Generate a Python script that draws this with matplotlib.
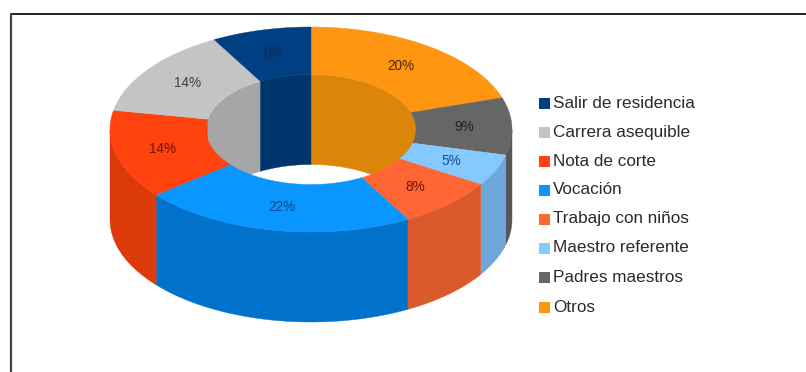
import matplotlib
matplotlib.use('Agg')
import matplotlib.pyplot as plt
from matplotlib.patches import Polygon, Rectangle
import numpy as np

plt.rcParams['font.family'] = ['Liberation Sans', 'DejaVu Sans']

# Clockwise from twelve o'clock
labels = ['Otros', 'Padres maestros', 'Maestro referente', 'Trabajo con niños',
          'Vocación', 'Nota de corte', 'Carrera asequible', 'Salir de residencia']
values = [20, 9, 5, 8, 22, 14, 14, 8]
top_colors = ['#FF9612', '#666666', '#84CAFF', '#FF6633',
              '#0A96FF', '#FF420E', '#C4C4C4', '#004082']
side_colors = ['#DB8609', '#575757', '#6FA6DC', '#DB5A2B',
               '#0072CC', '#DC3A08', '#A6A6A6', '#00356C']
text_colors = ['#4A2A00', '#222222', '#1F4A9A', '#701400',
               '#0A4A8A', '#701400', '#404040', '#0A2A55']
legend_order = labels[::-1]

# Ring geometry in pixels
CX, CY = 311, 129.5
RX_OUT, RY_OUT = 201, 102.5
RX_IN, RY_IN = 105, 55
DEPTH = 90


def arc(rx, ry, a0, a1, dy=0):
    t = np.radians(np.linspace(a0, a1, max(int(abs(a1 - a0)) * 2, 2)))
    return np.column_stack([CX + rx * np.sin(t), CY + dy - ry * np.cos(t)])


fig = plt.figure(figsize=(8.06, 3.72), dpi=100)
ax = fig.add_axes([0, 0, 1, 1])
ax.set_xlim(0, 806)
ax.set_ylim(372, 0)
ax.axis('off')

edges = np.cumsum([0] + values) * 3.6
slices = list(zip(edges[:-1], edges[1:], top_colors, side_colors))

# Inner wall, only the far half is visible; the first slice fills the right side up to 90 deg
for i, (a0, a1, top, side) in enumerate(slices):
    hi_right = 90 if i == 0 else min(a1, 90)
    for lo, hi in [(max(a0, 0), hi_right), (max(a0, 270), min(a1, 360))]:
        if hi > lo and not (i == 1 and lo < 90):
            pts = np.vstack([arc(RX_IN, RY_IN, lo, hi),
                             arc(RX_IN, RY_IN, hi, lo, DEPTH)])
            ax.add_patch(Polygon(pts, fc=side, ec=side, lw=0.3, zorder=1))

# Outer wall, only the near half is visible
for a0, a1, top, side in slices:
    lo, hi = max(a0, 90), min(a1, 270)
    if hi > lo:
        pts = np.vstack([arc(RX_OUT, RY_OUT, lo, hi),
                         arc(RX_OUT, RY_OUT, hi, lo, DEPTH)])
        ax.add_patch(Polygon(pts, fc=side, ec=side, lw=0.3, zorder=2))

# Top face
for a0, a1, top, side in slices:
    pts = np.vstack([arc(RX_OUT, RY_OUT, a0, a1), arc(RX_IN, RY_IN, a1, a0)])
    ax.add_patch(Polygon(pts, fc=top, ec=top, lw=0.3, zorder=3))

# Percent labels at the middle of each top segment
for a0, a1, v, c in zip(edges[:-1], edges[1:], values, text_colors):
    mid = np.radians((a0 + a1) / 2)
    x = CX + (RX_OUT + RX_IN) / 2 * np.sin(mid)
    y = CY - (RY_OUT + RY_IN) / 2 * np.cos(mid)
    ax.text(x, y, f'{v}%', ha='center', va='center', fontsize=9.8, color=c, zorder=4)

# Legend
legend_y = [103, 132, 161, 190, 219, 248, 277, 307]
for name, y in zip(legend_order, legend_y):
    c = top_colors[labels.index(name)]
    ax.add_patch(Rectangle((539, y - 5.5), 11, 11, fc=c, ec='none'))
    ax.text(553, y, name, ha='left', va='center', fontsize=12.3, color='#2A2A2A')

# Frame: top and left edges only
ax.plot([10, 806], [13.5, 13.5], color='#111111', lw=1.3, solid_capstyle='butt')
ax.plot([10.5, 10.5], [13, 372], color='#444444', lw=1.6, solid_capstyle='butt')

fig.savefig('out.png', dpi=100)
